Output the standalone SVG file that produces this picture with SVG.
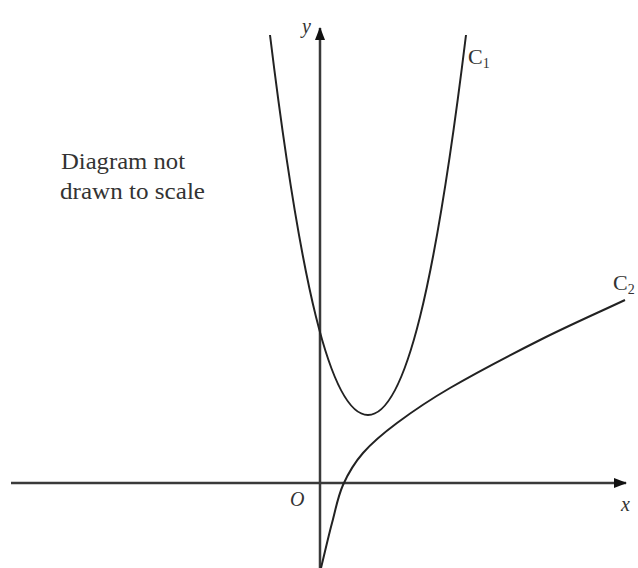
<svg xmlns="http://www.w3.org/2000/svg" width="638" height="568" viewBox="0 0 638 568">
<style>
.axis{stroke:#3a3a3a;stroke-width:2.5;fill:none}
.curve{stroke:#222;stroke-width:2;fill:none}
.t{font-family:'Liberation Serif','DejaVu Serif','Times New Roman',serif;fill:#333}
.i{font-style:italic}
</style>
<defs>
<marker id="arr" markerWidth="14" markerHeight="10" refX="12" refY="5" orient="auto" markerUnits="userSpaceOnUse">
<path d="M0,0 L13,5 L0,10 Z" fill="#111"/>
</marker>
</defs>
<rect width="638" height="568" fill="#fff"/>
<g id="axes">
<line class="axis" x1="11" y1="483" x2="626" y2="483" marker-end="url(#arr)"/>
<line class="axis" x1="320" y1="568" x2="320" y2="28" marker-end="url(#arr)"/>
</g>
<g id="connectors">
<path id="C1-curve" class="curve" d="M270,35 C300,280 330,415 368,415 C406,415 436,280 466,35"/>
<path id="C2-curve" class="curve" d="M321,568 C324.7,553 328.3,536.8 332,523 C335.7,509.2 337.8,496.7 343,485 C348.2,473.3 354,463.3 363,453 C372,442.7 382.5,433.8 397,423 C411.5,412.2 426.2,401.8 450,388 C473.8,374.2 510.8,354.7 540,340 C569.2,325.3 596.7,313.3 625,300"/>
</g>
<g id="labels">
<text class="t i" x="302" y="33" font-size="20">y</text>
<text class="t i" x="621" y="511" font-size="20">x</text>
<text class="t i" x="290" y="506" font-size="20">O</text>
<g id="C1"><text class="t" x="468" y="64" font-size="22">C<tspan font-size="14" dy="4">1</tspan></text></g>
<g id="C2"><text class="t" x="613" y="290" font-size="22">C<tspan font-size="14" dy="4">2</tspan></text></g>
<g id="note">
<text class="t" x="61" y="169" font-size="24" textLength="124" lengthAdjust="spacingAndGlyphs">Diagram not</text>
<text class="t" x="60" y="199" font-size="24" textLength="145" lengthAdjust="spacingAndGlyphs">drawn to scale</text>
</g>
</g>
</svg>
